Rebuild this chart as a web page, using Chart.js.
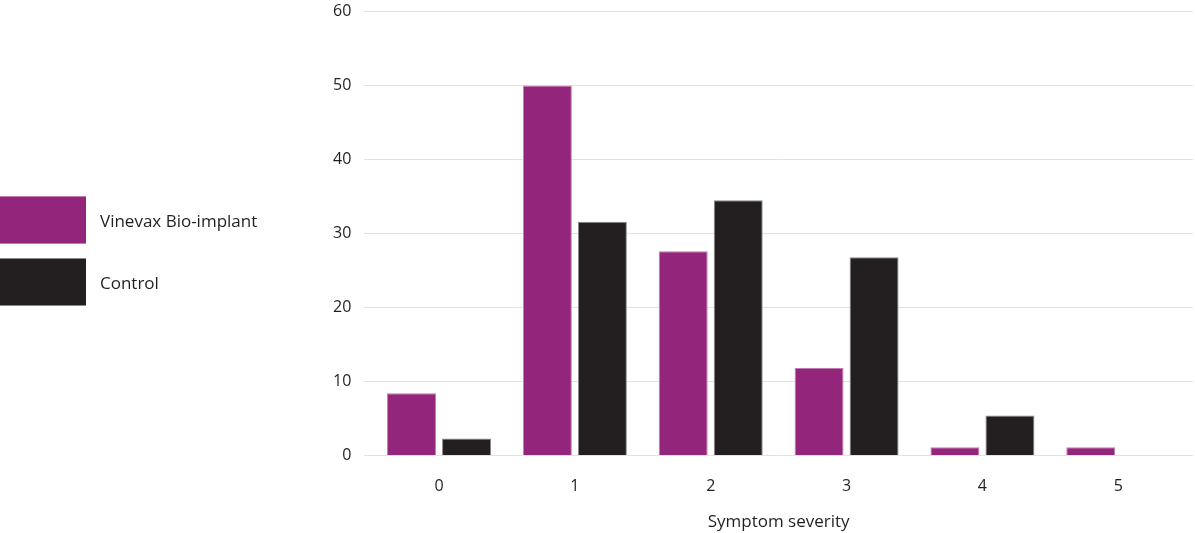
<!DOCTYPE html>
<html>
<head>
<meta charset="utf-8">
<script src="https://cdn.jsdelivr.net/npm/chart.js@4"></script>
<style>
  html, body { margin: 0; padding: 0; background: #fff; overflow: hidden; }
  #wrap { position: relative; width: 1195px; height: 533px; overflow: hidden; font-family: "Open Sans", sans-serif; }
  #chart { position: absolute; left: 0; top: -11px; }
  #legend { position: absolute; left: 0; top: 196px; }
  .item { display: flex; align-items: center; height: 48px; margin-bottom: 14px; }
  .box { width: 86px; height: 48px; margin-right: 14px; box-sizing: border-box; }
  .label { font-size: 17px; color: #231f20; }
</style>
</head>
<body>
<div id="wrap">
  <canvas id="chart" width="1195" height="544"></canvas>
  <div id="legend"></div>
</div>
<script>
const severity = [0, 1, 2, 3, 4, 5];
const vinevax = [8.4, 50, 27.6, 11.8, 1.1, 1.1];
const control = [2.3, 31.6, 34.5, 26.8, 5.4, 0];
const seriesNames = ['Vinevax Bio-implant', 'Control'];
const yTicks = [0, 10, 20, 30, 40, 50, 60];

const colors = ['#93267a', '#231f20'];
const edges = ['#c27cb2', '#8a8889'];

const toPoints = vals => severity.map((s, i) => ({ x: s, y: vals[i] }));

const ctx = document.getElementById('chart').getContext('2d');
const chart = new Chart(ctx, {
  type: 'bar',
  data: {
    datasets: [vinevax, control].map((vals, i) => ({
      label: seriesNames[i],
      data: toPoints(vals),
      backgroundColor: colors[i],
      borderColor: edges[i],
      borderWidth: c => (c.raw && c.raw.y > 0 ? 1 : 0),
      borderSkipped: 'start',
      categoryPercentage: 0.81,
      barPercentage: 0.89
    }))
  },
  options: {
    responsive: false,
    animation: false,
    layout: { padding: { left: 320, right: 2, top: 0, bottom: -3 } },
    plugins: { legend: { display: false }, tooltip: { enabled: false } },
    scales: {
      x: {
        type: 'linear',
        offset: false,
        min: -0.55,
        max: 5.55,
        grid: { display: false },
        border: { display: false },
        afterBuildTicks: axis => { axis.ticks = severity.map(v => ({ value: v })); },
        ticks: {
          font: { family: 'Open Sans', size: 16 },
          color: '#231f20',
          padding: 13
        },
        title: {
          display: true,
          text: 'Symptom severity',
          font: { family: 'Open Sans', size: 17 },
          color: '#231f20',
          padding: { top: 3 }
        }
      },
      y: {
        min: 0,
        max: 60,
        afterBuildTicks: axis => { axis.ticks = yTicks.map(v => ({ value: v })); },
        grid: { color: '#e2e2e2', drawTicks: false },
        border: { display: false },
        ticks: {
          font: { family: 'Open Sans', size: 16 },
          color: '#231f20',
          padding: 13
        }
      }
    }
  }
});

document.getElementById('legend').innerHTML = seriesNames.map((n, i) => `
  <div class="item">
    <div class="box" style="background:${colors[i]};border-bottom:1px solid ${edges[i]};border-top:1px solid ${edges[i]}"></div>
    <span class="label">${n}</span>
  </div>
`).join('');
</script>
</body>
</html>
